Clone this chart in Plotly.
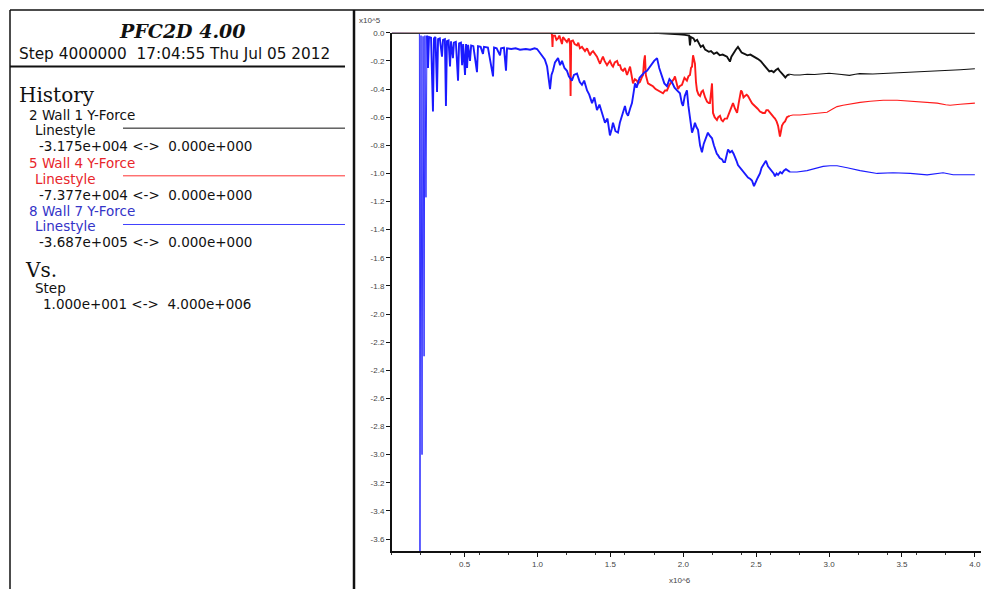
import plotly.graph_objects as go

# ---- history data (force in units of 1e5, step in units of 1e6) ----
WALL1_Y_FORCE = [
    (0.0, 0.0), (1.80, 0.0), (1.90, -0.004), (1.97, -0.01), (2.01, -0.015),
    (2.04, -0.02), (2.046, -0.09), (2.052, -0.03), (2.07, -0.04), (2.08, -0.06),
    (2.095, -0.05), (2.11, -0.08), (2.12, -0.10), (2.135, -0.09), (2.15, -0.12),
    (2.175, -0.135), (2.19, -0.13), (2.21, -0.15), (2.23, -0.14), (2.25, -0.16),
    (2.27, -0.155), (2.30, -0.17), (2.31, -0.19), (2.32, -0.205), (2.33, -0.17),
    (2.341, -0.15), (2.36, -0.12), (2.375, -0.10), (2.385, -0.12), (2.40, -0.14),
    (2.42, -0.15), (2.44, -0.16), (2.46, -0.155), (2.49, -0.17), (2.51, -0.185),
    (2.53, -0.20), (2.545, -0.22), (2.56, -0.24), (2.575, -0.26), (2.59, -0.275),
    (2.605, -0.27), (2.62, -0.28), (2.635, -0.265), (2.65, -0.255), (2.66, -0.27),
    (2.67, -0.28), (2.685, -0.30), (2.70, -0.3175), (2.715, -0.30), (2.73, -0.295),
    (2.76, -0.30), (2.80, -0.30), (2.85, -0.295), (2.90, -0.297), (2.95, -0.29),
    (3.0, -0.288), (3.07, -0.295), (3.12, -0.30), (3.14, -0.303), (3.18, -0.295),
    (3.21, -0.29), (3.30, -0.293), (3.40, -0.288), (3.50, -0.285), (3.60, -0.282),
    (3.70, -0.275), (3.80, -0.27), (3.90, -0.263), (4.0, -0.256),
]

WALL4_Y_FORCE = [
    (0.0, 0.0), (1.09, 0.0), (1.099, -0.01), (1.103, -0.10), (1.106, -0.02),
    (1.12, -0.02), (1.13, -0.05), (1.141, -0.04), (1.15, -0.02), (1.168, -0.08),
    (1.175, -0.03), (1.19, -0.05), (1.202, -0.065), (1.215, -0.04), (1.223, -0.08),
    (1.227, -0.45), (1.231, -0.06), (1.243, -0.055), (1.255, -0.08), (1.271, -0.09),
    (1.28, -0.07), (1.291, -0.11), (1.305, -0.10), (1.326, -0.13), (1.34, -0.11),
    (1.360, -0.16), (1.37, -0.14), (1.381, -0.13), (1.395, -0.15), (1.408, -0.17),
    (1.42, -0.20), (1.429, -0.22), (1.44, -0.19), (1.449, -0.17), (1.46, -0.20),
    (1.477, -0.23), (1.49, -0.21), (1.497, -0.20), (1.51, -0.23), (1.518, -0.24),
    (1.53, -0.21), (1.546, -0.20), (1.555, -0.23), (1.566, -0.23), (1.575, -0.26),
    (1.587, -0.27), (1.60, -0.25), (1.614, -0.30), (1.625, -0.27), (1.635, -0.24),
    (1.645, -0.30), (1.655, -0.36), (1.668, -0.33), (1.682, -0.34), (1.69, -0.36),
    (1.703, -0.35), (1.714, -0.32), (1.724, -0.30), (1.731, -0.20), (1.737, -0.16),
    (1.743, -0.30), (1.758, -0.36), (1.775, -0.37), (1.792, -0.38), (1.81, -0.40),
    (1.826, -0.41), (1.845, -0.42), (1.861, -0.43), (1.875, -0.41), (1.888, -0.41),
    (1.905, -0.37), (1.922, -0.35), (1.935, -0.33), (1.943, -0.31), (1.955, -0.36),
    (1.964, -0.40), (1.975, -0.38), (1.991, -0.37), (2.008, -0.32), (2.025, -0.34),
    (2.035, -0.31), (2.046, -0.30), (2.053, -0.25), (2.060, -0.24), (2.067, -0.16),
    (2.074, -0.20), (2.080, -0.22), (2.087, -0.35), (2.094, -0.41), (2.105, -0.44),
    (2.115, -0.45), (2.125, -0.42), (2.135, -0.41), (2.15, -0.46), (2.163, -0.49),
    (2.175, -0.50), (2.183, -0.50), (2.19, -0.43), (2.197, -0.36), (2.204, -0.57),
    (2.215, -0.60), (2.231, -0.62), (2.24, -0.60), (2.252, -0.59), (2.262, -0.62),
    (2.272, -0.63), (2.285, -0.61), (2.300, -0.61), (2.31, -0.58), (2.321, -0.55),
    (2.33, -0.52), (2.341, -0.50), (2.355, -0.54), (2.369, -0.57), (2.38, -0.50),
    (2.389, -0.43), (2.396, -0.41), (2.403, -0.42), (2.413, -0.46), (2.423, -0.45),
    (2.435, -0.44), (2.444, -0.45), (2.458, -0.48), (2.471, -0.50), (2.48, -0.51),
    (2.492, -0.52), (2.51, -0.54), (2.526, -0.56), (2.545, -0.57), (2.560, -0.57),
    (2.57, -0.55), (2.581, -0.55), (2.595, -0.57), (2.608, -0.59), (2.62, -0.60),
    (2.629, -0.61), (2.64, -0.63), (2.650, -0.66), (2.663, -0.7377), (2.67, -0.70),
    (2.677, -0.66), (2.688, -0.64), (2.698, -0.63), (2.711, -0.60), (2.73, -0.59),
    (2.752, -0.585), (2.80, -0.585), (2.849, -0.58), (2.90, -0.575), (2.938, -0.57),
    (2.986, -0.565), (3.027, -0.54), (3.055, -0.525), (3.096, -0.515), (3.15, -0.505),
    (3.213, -0.495), (3.282, -0.487), (3.371, -0.48), (3.467, -0.48), (3.556, -0.487),
    (3.645, -0.494), (3.741, -0.50), (3.80, -0.512), (3.830, -0.515), (3.899, -0.508),
    (3.988, -0.50), (4.0, -0.50),
]

WALL7_Y_FORCE = [
    (0.0, 0.0), (0.19, -0.005), (0.194, -3.687), (0.201, -0.02), (0.208, -3.0),
    (0.215, -0.025), (0.222, -2.3), (0.228, -0.02), (0.235, -1.17), (0.242, -0.02),
    (0.249, -0.25), (0.256, -0.03), (0.27, -0.035), (0.283, -0.56), (0.29, -0.04),
    (0.30, -0.03), (0.311, -0.42), (0.318, -0.045), (0.33, -0.04), (0.345, -0.17),
    (0.352, -0.05), (0.365, -0.045), (0.372, -0.52), (0.379, -0.06), (0.39, -0.055),
    (0.40, -0.24), (0.407, -0.06), (0.42, -0.18), (0.427, -0.07), (0.44, -0.065),
    (0.455, -0.34), (0.462, -0.075), (0.475, -0.07), (0.483, -0.23), (0.49, -0.08),
    (0.503, -0.30), (0.51, -0.08), (0.517, -0.25), (0.524, -0.085), (0.537, -0.20),
    (0.545, -0.09), (0.56, -0.095), (0.585, -0.28), (0.592, -0.095), (0.61, -0.10),
    (0.626, -0.15), (0.633, -0.10), (0.66, -0.105), (0.695, -0.31), (0.702, -0.105),
    (0.72, -0.11), (0.743, -0.16), (0.75, -0.11), (0.77, -0.105), (0.784, -0.27),
    (0.791, -0.11), (0.82, -0.115), (0.85, -0.11), (0.88, -0.12), (0.92, -0.115),
    (0.95, -0.12), (0.98, -0.11), (0.997, -0.115), (1.015, -0.14), (1.031, -0.165),
    (1.05, -0.19), (1.066, -0.24), (1.076, -0.33), (1.086, -0.40), (1.096, -0.30),
    (1.106, -0.27), (1.12, -0.21), (1.141, -0.18), (1.155, -0.23), (1.168, -0.20),
    (1.185, -0.25), (1.202, -0.27), (1.215, -0.31), (1.236, -0.34), (1.25, -0.30),
    (1.271, -0.29), (1.29, -0.35), (1.305, -0.37), (1.32, -0.34), (1.340, -0.41),
    (1.355, -0.44), (1.374, -0.50), (1.39, -0.46), (1.408, -0.55), (1.425, -0.51),
    (1.443, -0.57), (1.455, -0.60), (1.463, -0.64), (1.48, -0.61), (1.497, -0.73),
    (1.51, -0.68), (1.518, -0.64), (1.535, -0.70), (1.552, -0.71), (1.565, -0.64),
    (1.580, -0.59), (1.59, -0.56), (1.600, -0.52), (1.61, -0.57), (1.621, -0.59),
    (1.635, -0.54), (1.648, -0.50), (1.66, -0.42), (1.669, -0.36), (1.68, -0.39),
    (1.689, -0.35), (1.70, -0.32), (1.717, -0.30), (1.735, -0.28), (1.751, -0.27),
    (1.77, -0.24), (1.785, -0.22), (1.80, -0.20), (1.820, -0.18), (1.835, -0.25),
    (1.854, -0.31), (1.87, -0.36), (1.888, -0.38), (1.905, -0.33), (1.922, -0.35),
    (1.94, -0.39), (1.957, -0.41), (1.977, -0.43), (1.99, -0.50), (1.998, -0.52),
    (2.01, -0.45), (2.025, -0.41), (2.035, -0.52), (2.046, -0.59), (2.060, -0.71),
    (2.07, -0.68), (2.080, -0.64), (2.09, -0.67), (2.101, -0.69), (2.115, -0.80),
    (2.128, -0.85), (2.14, -0.79), (2.149, -0.76), (2.16, -0.74), (2.169, -0.71),
    (2.18, -0.73), (2.197, -0.75), (2.21, -0.80), (2.218, -0.83), (2.23, -0.86),
    (2.238, -0.87), (2.25, -0.89), (2.266, -0.90), (2.276, -0.92), (2.286, -0.92),
    (2.296, -0.87), (2.307, -0.83), (2.32, -0.85), (2.334, -0.84), (2.345, -0.86),
    (2.355, -0.88), (2.365, -0.91), (2.375, -0.94), (2.39, -0.96), (2.403, -0.97),
    (2.413, -0.99), (2.423, -1.00), (2.435, -1.02), (2.444, -1.03), (2.46, -1.04),
    (2.471, -1.05), (2.485, -1.09), (2.495, -1.06), (2.506, -1.04), (2.516, -1.02),
    (2.526, -1.00), (2.537, -0.96), (2.547, -0.94), (2.557, -0.93), (2.567, -0.91),
    (2.581, -0.95), (2.595, -0.97), (2.608, -0.98), (2.62, -1.00), (2.629, -1.02),
    (2.64, -1.00), (2.650, -1.01), (2.665, -0.99), (2.677, -1.00), (2.69, -0.98),
    (2.704, -0.97), (2.732, -0.99), (2.78, -0.99), (2.849, -0.98), (2.917, -0.96),
    (2.959, -0.95), (3.007, -0.945), (3.055, -0.945), (3.124, -0.96), (3.213, -0.98),
    (3.33, -1.00), (3.439, -0.995), (3.556, -1.00), (3.673, -1.01), (3.782, -0.995),
    (3.851, -1.01), (3.988, -1.01), (4.0, -1.01),
]

SERIES_COLORS = ["#111111", "#ff1a1a", "#1a1aff"]
Y_TICKS = [-0.2 * i for i in range(19)]
X_TICKS = [0.5, 1.0, 1.5, 2.0, 2.5, 3.0, 3.5, 4.0]
STARTUP_UNTIL = 0.242  # step (x1e6) of the early impact transient
SETTLED_FROM = 2.73    # step (x1e6) after which the histories are quiet

W, H = 984, 589


def px(x):
    return x / W


def py(y):
    return 1 - y / H


fig = go.Figure()
for data, color in zip([WALL1_Y_FORCE, WALL4_Y_FORCE, WALL7_Y_FORCE], SERIES_COLORS):
    xs = [p[0] for p in data]
    ys = [p[1] for p in data]
    a = next(i for i, v in enumerate(xs) if v >= STARTUP_UNTIL)
    b = next(i for i, v in enumerate(xs) if v >= SETTLED_FROM)
    # thin transient, heavier noisy body, thin settled tail
    for lo, hi, width in [(0, a, 0.9), (a, b, 1.9), (b, len(xs) - 1, 1.1)]:
        fig.add_trace(go.Scatter(x=xs[lo:hi + 1], y=ys[lo:hi + 1], mode="lines",
                                 line=dict(color=color, width=width),
                                 hoverinfo="skip", showlegend=False))

tick_font = dict(family="Liberation Sans, Arial, sans-serif", size=8, color="#444444")

fig.update_layout(
    width=W, height=H,
    margin=dict(l=0, r=0, t=0, b=0),
    paper_bgcolor="white", plot_bgcolor="white",
    showlegend=False,
    xaxis=dict(
        domain=[391.7 / W, 980.7 / W], range=[0, 4.04],
        showgrid=False, zeroline=False,
        showline=True, linecolor="#111111", linewidth=1.5,
        ticks="outside", ticklen=4, tickcolor="#111111", tickwidth=1,
        tickvals=X_TICKS, ticktext=[f"{v:.1f}" for v in X_TICKS],
        tickfont=tick_font,
        minor=dict(dtick=0.2, tick0=0, ticks="outside", ticklen=2,
                   tickcolor="#333333", showgrid=False),
    ),
    yaxis=dict(
        domain=[1 - 551 / H, 1 - 29 / H], range=[-3.687, 0],
        showgrid=False, zeroline=False,
        showline=True, linecolor="#111111", linewidth=1.5,
        ticks="outside", ticklen=4, tickcolor="#111111", tickwidth=1,
        tickvals=Y_TICKS,
        ticktext=[f"{abs(v):.1f}" if abs(v) < 1e-9 else f"{v:.1f}" for v in Y_TICKS],
        tickfont=tick_font,
    ),
)

shapes = []
# zero reference line across the plot
shapes.append(dict(type="line", xref="x", yref="y", x0=0, x1=4.0, y0=0, y1=0,
                   line=dict(color="#333333", width=2.5), layer="above"))
# outer frame of the info panel
shapes.append(dict(type="line", xref="paper", yref="paper",
                   x0=px(10), x1=px(984), y0=py(6), y1=py(6),
                   line=dict(color="#111111", width=1.5)))
shapes.append(dict(type="line", xref="paper", yref="paper",
                   x0=px(10), x1=px(10), y0=py(6), y1=py(589),
                   line=dict(color="#111111", width=1.5)))
shapes.append(dict(type="line", xref="paper", yref="paper",
                   x0=px(354), x1=px(354), y0=py(6), y1=py(589),
                   line=dict(color="#111111", width=2.5)))
# separator under the header
shapes.append(dict(type="line", xref="paper", yref="paper",
                   x0=px(10), x1=px(345), y0=py(63), y1=py(63),
                   line=dict(color="#111111", width=2)))
# linestyle samples
for yy, color in zip([125, 173, 222], ["#111111", "#ff3030", "#4040ff"]):
    shapes.append(dict(type="line", xref="paper", yref="paper",
                       x0=px(123), x1=px(345), y0=py(yy), y1=py(yy),
                       line=dict(color=color, width=1)))
fig.update_layout(shapes=shapes)

sans = "DejaVu Sans, Verdana, sans-serif"
serif = "DejaVu Serif, Liberation Serif, serif"
RED_TXT = "#e8262b"
BLUE_TXT = "#3434c8"


def label(text, x, y, size=13.5, color="#111111", family=sans, anchor="left",
          weight="normal", style="normal"):
    fig.add_annotation(text=text, x=px(x), y=py(y), xref="paper", yref="paper",
                       xanchor=anchor, yanchor="middle", showarrow=False,
                       font=dict(family=family, size=size, color=color,
                                 weight=weight, style=style))


label("PFC2D 4.00", 182, 27, size=19, family=serif, anchor="center",
      weight="bold", style="italic")
label("Step 4000000  17:04:55 Thu Jul 05 2012", 17, 50, size=15.3)
label("History", 17, 92, size=20, family=serif)
label("2 Wall 1 Y-Force", 27, 112)
label("Linestyle", 33, 127)
label("-3.175e+004 <->  0.000e+000", 37, 143)
label("5 Wall 4 Y-Force", 27, 160, color=RED_TXT)
label("Linestyle", 33, 176, color=RED_TXT)
label("-7.377e+004 <->  0.000e+000", 37, 192)
label("8 Wall 7 Y-Force", 27, 208, color=BLUE_TXT)
label("Linestyle", 33, 224, color=BLUE_TXT)
label("-3.687e+005 <->  0.000e+000", 37, 240)
label("Vs.", 23, 268, size=20, family=serif)
label("Step", 33, 286)
label("1.000e+001 <->  4.000e+006", 41, 302)

# axis multipliers
label("x10^5", 357, 17, size=8, color="#444444",
      family="Liberation Sans, Arial, sans-serif")
label("x10^6", 667, 580, size=8, color="#444444",
      family="Liberation Sans, Arial, sans-serif")

fig.write_html("out.html")
